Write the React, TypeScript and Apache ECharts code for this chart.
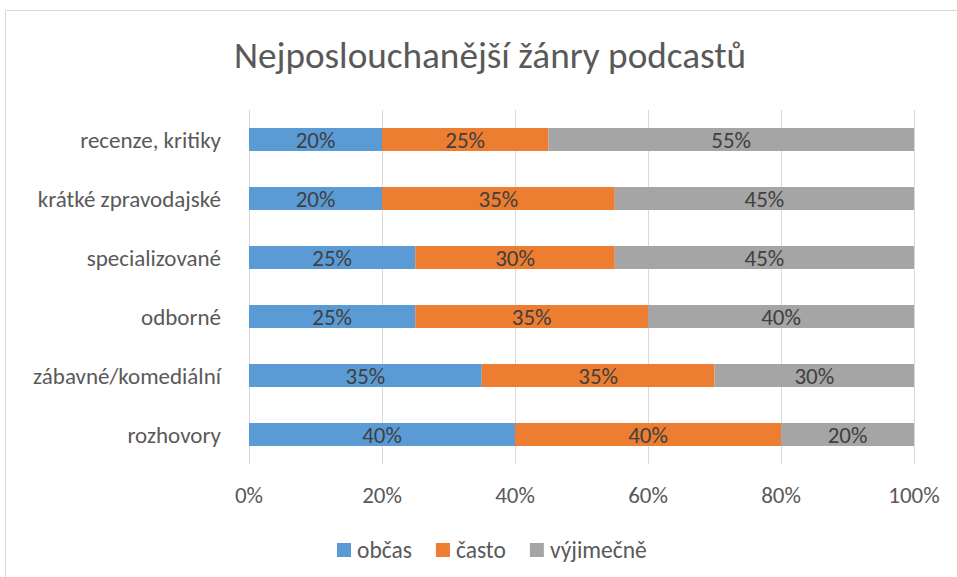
import React, { useEffect, useRef } from "react";
import * as echarts from "echarts";

const categories = [
  "rozhovory",
  "zábavné/komediální",
  "odborné",
  "specializované",
  "krátké zpravodajské",
  "recenze, kritiky",
];
const obcas = [40, 35, 25, 25, 20, 20];
const casto = [40, 35, 35, 30, 35, 25];
const vyjimecne = [20, 30, 40, 45, 45, 55];
const seriesNames = ["občas", "často", "výjimečně"];
const colors = ["#5B9BD5", "#ED7D31", "#A5A5A5"];

const FONT = "Carlito, 'Liberation Sans Narrow', 'Open Sans', sans-serif";

export default function App() {
  const ref = useRef<HTMLDivElement>(null);
  useEffect(() => {
    if (!ref.current) return;
    const chart = echarts.init(ref.current, null, { renderer: "svg" });
    const mk = (name: string, data: number[], color: string) => ({
      name,
      type: "bar",
      stack: "total",
      data,
      barCategoryGap: "61%",
      itemStyle: { color },
      label: {
        show: true,
        position: "inside",
        formatter: "{c}%",
        color: "#404040",
        fontSize: 23,
        fontFamily: FONT,
      },
    });
    chart.setOption({
      animation: false,
      textStyle: { fontFamily: FONT },
      title: {
        text: "Nejposlouchanější žánry podcastů",
        left: 229,
        top: 32,
        textStyle: { color: "#595959", fontSize: 37.2, fontWeight: "normal", fontFamily: FONT },
      },
      graphic: [
        {
          type: "rect",
          shape: { x: 5.5, y: 10.5, width: 2000, height: 2000 },
          style: { fill: "none", stroke: "#D9D9D9", lineWidth: 1 },
          silent: true,
        },
      ],
      legend: {
        top: 533,
        left: 332,
        icon: "rect",
        itemWidth: 14,
        itemHeight: 14,
        itemGap: 24,
        textStyle: { color: "#595959", fontSize: 23.5, fontFamily: FONT, padding: [0, 0, 0, 1] },
        data: seriesNames,
      },
      grid: { left: 249, right: 43, top: 110, bottom: 113, containLabel: false },
      xAxis: {
        type: "value",
        min: 0,
        max: 100,
        interval: 20,
        axisLabel: { formatter: "{value}%", color: "#595959", fontSize: 23, margin: 19, fontFamily: FONT },
        splitLine: { lineStyle: { color: "#D9D9D9", width: 1 } },
        axisLine: { show: false },
        axisTick: { show: false },
      },
      yAxis: {
        type: "category",
        data: categories,
        axisLine: { show: true, lineStyle: { color: "#D9D9D9" } },
        axisTick: { show: false },
        axisLabel: { color: "#595959", fontSize: 23, margin: 28, fontFamily: FONT },
      },
      series: [
        mk(seriesNames[0], obcas, colors[0]),
        mk(seriesNames[1], casto, colors[1]),
        mk(seriesNames[2], vyjimecne, colors[2]),
      ],
    });
    return () => chart.dispose();
  }, []);
  return <div ref={ref} style={{ width: 957, height: 577, position: "absolute", left: 0, top: 0, background: "#fff" }} />;
}
